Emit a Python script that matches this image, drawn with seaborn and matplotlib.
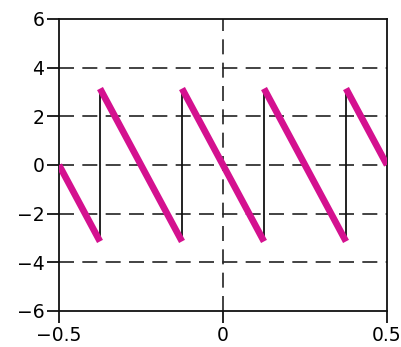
import matplotlib
matplotlib.use("Agg")
import matplotlib.pyplot as plt
import seaborn as sns
import numpy as np
import pandas as pd

# Sawtooth segments (x start/end, y start/end)
seg_x0 = [-0.5, -0.375, -0.125, 0.125, 0.375]
seg_x1 = [-0.375, -0.125, 0.125, 0.375, 0.5]
seg_y0 = [0.0, 3.1416, 3.1416, 3.1416, 3.1416]
seg_y1 = [-3.1416, -3.1416, -3.1416, -3.1416, 0.0]
# Jump discontinuities
jump_x = [-0.375, -0.125, 0.125, 0.375]
jump_lo = -3.1416
jump_hi = 3.1416
# Axis ticks & reference lines
xticks = [-0.5, 0, 0.5]
xtick_labels = ["\u22120.5", "0", "0.5"]
yticks = [-6, -4, -2, 0, 2, 4, 6]
hlines = [-4, -2, 0, 2, 4]
vlines = [0]

sns.set_style("ticks")
plt.rcParams['font.family'] = ['DejaVu Sans']

fig = plt.figure(figsize=(4.02, 3.47), dpi=100)
ax = fig.add_axes([59/402, 1-311/347, (387-59)/402, (311-19)/347])

dash = (0, (9, 5))
for h in hlines:
    ax.axhline(h, color="#222222", lw=1.2, ls=dash, zorder=1)
for v in vlines:
    ax.axvline(v, color="#222222", lw=1.2, ls=dash, zorder=1)

ax.vlines(jump_x, jump_lo, jump_hi, color="#111111", lw=1.3, zorder=2)

rows = []
for i, (a, b, c, d) in enumerate(zip(seg_x0, seg_x1, seg_y0, seg_y1)):
    rows.append({"seg": i, "x": a, "y": c})
    rows.append({"seg": i, "x": b, "y": d})
df = pd.DataFrame(rows)
for i, g in df.groupby("seg"):
    sns.lineplot(data=g, x="x", y="y", ax=ax, color="#D4118F", lw=4.8,
                 sort=False, estimator=None, solid_capstyle="butt", zorder=3)

ax.set_xlim(-0.5, 0.5)
ax.set_ylim(-6, 6)
ax.set_xticks(xticks)
ax.set_xticklabels(xtick_labels)
ax.set_yticks(yticks)
ax.set_xlabel("")
ax.set_ylabel("")
for s in ax.spines.values():
    s.set_linewidth(1.3)
    s.set_color("#111111")
ax.tick_params(axis="both", direction="out", length=8.5, width=1.3, colors="#111111",
               labelsize=13.5, labelcolor="black")
ax.tick_params(axis="y", pad=2)
ax.tick_params(axis="x", pad=2.5)

fig.savefig("out.png", dpi=100)
